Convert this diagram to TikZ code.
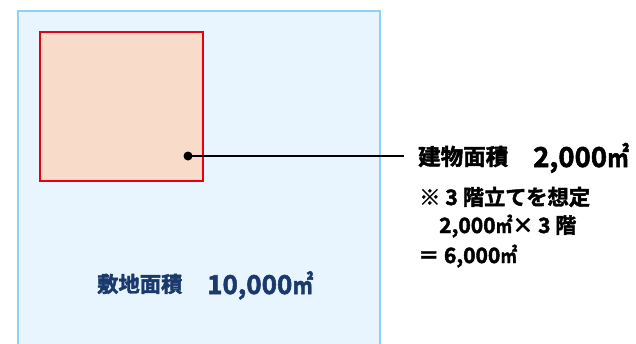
\documentclass[tikz,border=0pt]{standalone}
\usepackage{fontspec}
\usepackage{graphicx}
\newfontfamily\jp{Noto Sans CJK JP}[BoldFont={Noto Sans CJK JP Bold},BoldFeatures={FakeBold=2}]
\newcommand{\sqmeter}{\scalebox{0.8}[1]{㎡}}
\definecolor{siteFill}{HTML}{E8F5FE}
\definecolor{siteLine}{HTML}{8DD3F7}
\definecolor{bldFill}{HTML}{F9DBC9}
\definecolor{bldLine}{HTML}{E60012}
\definecolor{navy}{HTML}{1A3A6E}
\tikzset{
  lbl/.style={inner sep=0pt, anchor=base west, font=\jp\bfseries},
}
\begin{document}
\begin{tikzpicture}[x=1pt,y=-1pt]
\useasboundingbox (0,0) rectangle (636,343);
\fill[siteFill] (18,11) rectangle (380,350);
\draw[siteLine, line width=2pt] (18,350) -- (18,11) -- (380,11) -- (380,350);
\draw[bldLine, fill=bldFill, line width=2pt] (40,32) rectangle (203,181);
\coordinate (dot) at (188,156);
\coordinate (lineEnd) at (404,156);
\fill[black] (dot) circle (4.5);
\draw[black, line width=2.5pt] (dot) -- (lineEnd);
\node[lbl, font=\jp\bfseries\fontsize{22.5}{23}\selectfont] (bA) at (418,165) {建物面積};
\node[lbl, font=\jp\bfseries\fontsize{27.5}{27}\selectfont] (bV) at (533,167) {2,000\sqmeter};
\node[lbl, font=\jp\bfseries\fontsize{21.3}{21}\selectfont] (n1) at (419,205) {※ 3 階立てを想定};
\node[lbl, font=\jp\bfseries\fontsize{21}{21}\selectfont] (n2) at (439,233) {2,000\sqmeter× 3 階};
\node[lbl, font=\jp\bfseries\fontsize{21}{21}\selectfont] (n3) at (418,263) {＝ 6,000\sqmeter};
\node[lbl, text=navy, font=\jp\bfseries\fontsize{21.3}{21}\selectfont] (sA) at (97,292) {敷地面積};
\node[lbl, text=navy, font=\jp\bfseries\fontsize{26}{26}\selectfont] (sV) at (207,294) {10,000\sqmeter};
\end{tikzpicture}
\end{document}
